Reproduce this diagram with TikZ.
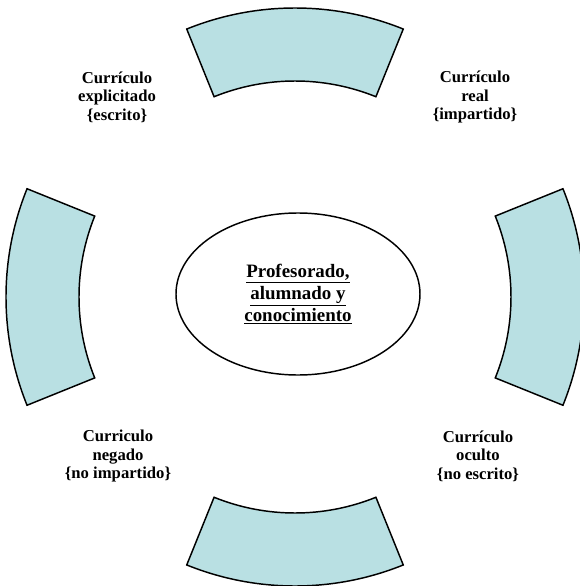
\documentclass[tikz,border=0pt]{standalone}
\usepackage{fontspec}
\setmainfont{Liberation Serif}
\usepackage{tikz}
\usetikzlibrary{shapes.geometric,positioning}
\definecolor{segfill}{RGB}{185,224,227}
\tikzset{
  segbox/.style={draw=black, line width=1.1pt, fill=segfill, line join=miter},
  lbl/.style={align=center, font=\bfseries\fontsize{12.5}{14}\selectfont, inner sep=0pt},
  hub/.style={ellipse, draw=black, line width=1.1pt, minimum width=183pt,
              minimum height=121.5pt, align=center, inner sep=0pt,
              font=\bfseries\fontsize{14.2}{16.5}\selectfont},
}

\begin{document}
\begin{tikzpicture}[x=0.75pt,y=0.75pt]
  \useasboundingbox (-295,-289) rectangle (284,297);
  % ring of four arc segments
  \foreach \a in {0,90,180,270}{
    \draw[segbox] (\a-22:216) arc (\a-22:\a+22:216) -- (\a+22:289)
      arc (\a+22:\a-22:289) -- cycle;
  }
  % centre
  \node[hub] (hub) at (3,3) {\underline{Profesorado,}\\\underline{alumnado y}\\\underline{conocimiento}};
  % labels
  \node[lbl] (escrito) at (-178,200) {Currículo\\explicitado\\\{escrito\}};
  \node[lbl] (real) at (180,200) {Currículo\\real\\\{impartido\}};
  \node[lbl] (negado) at (-177,-159) {Curriculo\\negado\\\{no impartido\}};
  \node[lbl] (oculto) at (183,-159) {Currículo\\oculto\\\{no escrito\}};
\end{tikzpicture}
\end{document}
